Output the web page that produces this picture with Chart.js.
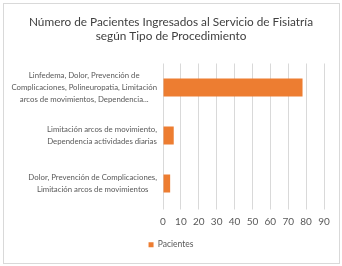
<!DOCTYPE html>
<html>
<head>
<meta charset="utf-8">
<script src="https://cdn.jsdelivr.net/npm/chart.js@4"></script>
<style>
  body { margin: 0; background: #fff; }
  #marco { position: absolute; left: 3px; top: 3px; width: 335px; height: 259px; border: 1px solid #d9d9d9; }
</style>
</head>
<body>
<div id="marco"><canvas id="grafico"></canvas></div>
<script>
// datos
let categorias = [
  ["Linfedema, Dolor, Prevención de", "Complicaciones, Polineuropatia, Limitación", "arcos de movimientos, Dependencia..."],
  ["Limitación arcos de movimiento,", "Dependencia actividades diarias"],
  ["Dolor, Prevención de Complicaciones,", "Limitación arcos de movimientos"]
];
let pacientes = [78, 6, 4];
let tituloLineas = ["Número de Pacientes Ingresados al Servicio de Fisiatría", "según Tipo de Procedimiento"];
let serie = "Pacientes";

Chart.defaults.font.family = "Lato, 'Open Sans', sans-serif";
Chart.defaults.color = "#595959";

// etiquetas del eje y: bloque alineado a la derecha, lineas centradas (como Excel)
const etiquetasCentradas = {
    id: 'etiquetasCentradas',
    afterDraw(chart) {
        const eje = chart.scales.y;
        const c = chart.ctx;
        c.save();
        c.font = "7.8px Lato, sans-serif";
        c.fillStyle = '#595959';
        c.textBaseline = 'middle';
        c.textAlign = 'center';
        chart.data.labels.forEach((lineas, i) => {
            const y = eje.getPixelForTick(i);
            const ancho = Math.max(...lineas.map(l => c.measureText(l).width));
            const cx = eje.right - 6 - ancho / 2;
            lineas.forEach((l, j) => c.fillText(l, cx, y + (j - (lineas.length - 1) / 2) * 12));
        });
        c.restore();
    }
};

var ctx = document.getElementById("grafico").getContext('2d');
var chart = new Chart(ctx, {
    type: 'bar',
    data: {
        labels: categorias,
        datasets: [{
            label: serie,
            data: pacientes,
            backgroundColor: '#ED7D31',
            categoryPercentage: 0.38,
            barPercentage: 1
        }]
    },
    options: {
        indexAxis: 'y',
        responsive: true,
        maintainAspectRatio: false,
        animation: false,
        layout: { padding: { left: 14, right: 15, top: 2, bottom: 4 } },
        plugins: {
            title: {
                display: true,
                text: tituloLineas,
                font: { size: 11.8, weight: 'normal', lineHeight: 1.25 },
                color: '#404040',
                padding: { top: 8.5, bottom: 19.5 }
            },
            legend: {
                position: 'bottom',
                labels: { boxWidth: 5, boxHeight: 5, font: { size: 8.5 }, padding: 10 }
            },
            tooltip: { enabled: false }
        },
        scales: {
            x: {
                min: 0,
                max: 90,
                ticks: { stepSize: 10, font: { size: 10 }, padding: 6 },
                grid: { color: '#d9d9d9', tickLength: 2 },
                border: { display: false },
                afterFit: function(escala) { escala.height = escala.height - 3; }
            },
            y: {
                ticks: { display: false },
                grid: { display: false },
                border: { display: false },
                afterFit: function(escala) { escala.width = 145; }
            }
        }
    },
    plugins: [etiquetasCentradas]
});
</script>
</body>
</html>
